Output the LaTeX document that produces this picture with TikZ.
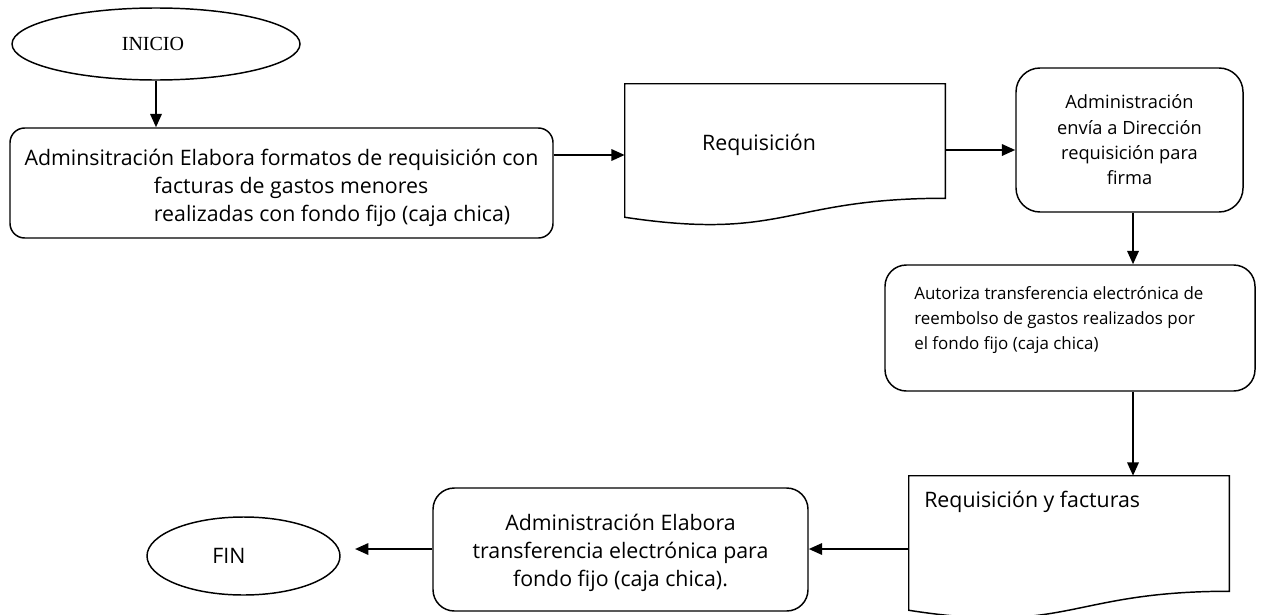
\documentclass[tikz,border=0pt]{standalone}
\usepackage{fontspec}
\setmainfont{Open Sans}
\newfontfamily\timesf{Liberation Serif}
\usetikzlibrary{shapes.geometric,arrows.meta,calc}
\begin{document}
\begin{tikzpicture}[x=0.75pt,y=-0.75pt,
  shp/.style={draw=black,line width=1.1pt},
  rbox/.style={shp,rounded corners=16pt,inner sep=0pt},
  oval/.style={shp,ellipse,inner sep=0pt},
  arr/.style={line width=1.7pt,-{Triangle[length=10pt,width=8.5pt]}},
  txt/.style={inner sep=0pt,font=\fontsize{16}{21}\selectfont},
  stxt/.style={inner sep=0pt,font=\fontsize{13.7}{19}\selectfont},
]
\useasboundingbox (0,0) rectangle (1273,614);

% nodes
\node[oval,minimum width=216pt,minimum height=54pt] (inicio) at (156,44) {};
\node[font=\timesf\fontsize{15}{18}\selectfont,inner sep=0pt] (iniciot) at (153,44) {INICIO};

\node[rbox,rounded corners=11pt,minimum width=407.25pt,minimum height=82.5pt] (box1) at (281.5,183) {};
\node[txt,align=left] (box1t) at (281.5,188)
  {Adminsitración Elabora formatos de requisición con\\\hspace*{97pt}facturas de gastos menores\\\hspace*{97pt}realizadas con fondo fijo (caja chica)};

\node[minimum width=240pt,minimum height=85.5pt,inner sep=0pt] (doc1) at (785,141) {};
\draw[shp] (doc1.north west) -- (doc1.north east) -- (doc1.south east)
  .. controls (doc1.south) and ($(doc1.south)+(0,43)$) .. ($(doc1.south west)+(0,19)$) -- cycle;
\node[txt] (doc1t) at (759,145) {Requisición};

\node[rbox,rounded corners=18pt,minimum width=170.25pt,minimum height=108pt,align=center,stxt] (box2) at (1129.5,140)
  {Administración\\envía a Dirección\\requisición para\\firma};

\node[rbox,minimum width=277.5pt,minimum height=94.5pt] (box3) at (1070,328) {};
\node[font=\fontsize{12.7}{19}\selectfont,inner sep=0pt,align=left,anchor=west] (box3t) at (914,320)
  {Autoriza transferencia electrónica de\\reembolso de gastos realizados por\\el fondo fijo (caja chica)};

\node[minimum width=240pt,minimum height=86.25pt,inner sep=0pt] (doc2) at (1069,533.5) {};
\draw[shp] (doc2.north west) -- (doc2.north east) -- (doc2.south east)
  .. controls (doc2.south) and ($(doc2.south)+(0,44)$) .. ($(doc2.south west)+(0,19)$) -- cycle;
\node[txt,anchor=west] (doc2t) at (924,502) {Requisición y facturas};

\node[rbox,minimum width=281.25pt,minimum height=92.25pt] (box4) at (620.5,549.5) {};
\node[txt,align=center] (box4t) at (620.5,553)
  {Administración Elabora\\transferencia electrónica para\\fondo fijo (caja chica).};

\node[oval,minimum width=144.75pt,minimum height=58.5pt] (fin) at (243.5,556) {};
\node[txt] (fint) at (229,556) {FIN};

% connectors
\coordinate (y1) at (0,155);
\coordinate (y2) at (0,150);
\coordinate (y3) at (0,549);
\coordinate (x1) at (1133,0);
\coordinate (x2) at (355,0);
\draw[arr] (inicio.south) -- (inicio.south |- box1.north);
\draw[arr] (box1.east |- y1) -- (doc1.west |- y1);
\draw[arr] (doc1.east |- y2) -- (box2.west |- y2);
\draw[arr] (box2.south -| x1) -- (box3.north -| x1);
\draw[arr] (box3.south -| x1) -- (doc2.north -| x1);
\draw[arr] (doc2.west |- y3) -- (box4.east |- y3);
\draw[arr] (box4.west |- y3) -- (x2 |- y3);
\end{tikzpicture}
\end{document}
